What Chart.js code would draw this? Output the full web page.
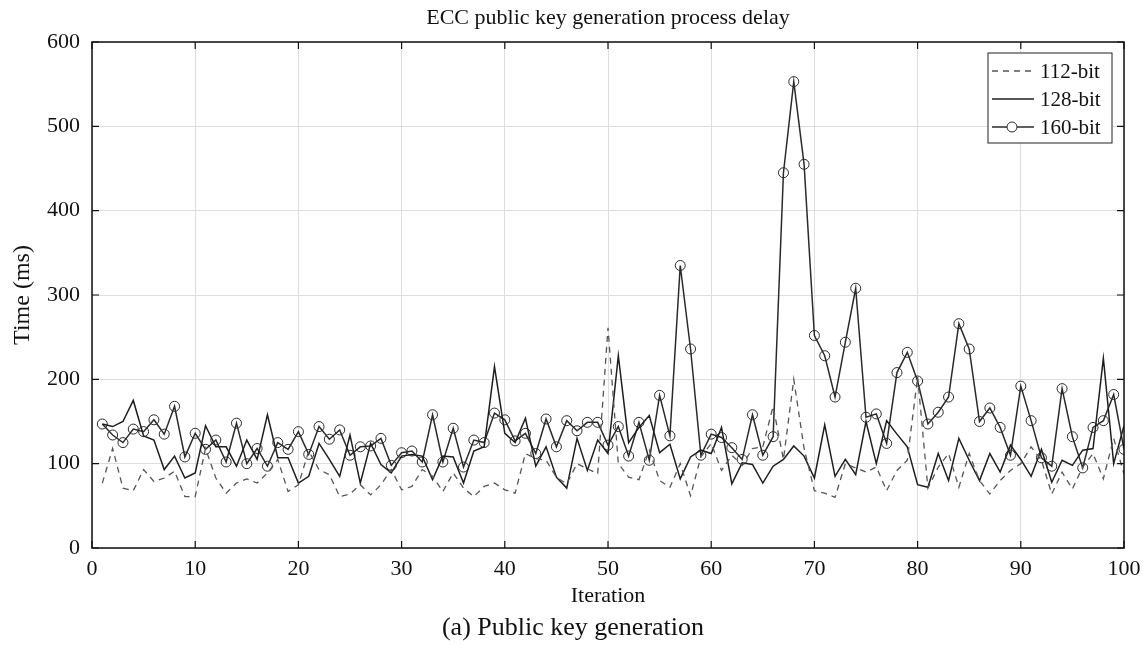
<!DOCTYPE html>
<html>
<head>
<meta charset="utf-8">
<script src="https://cdn.jsdelivr.net/npm/chart.js@4/dist/chart.umd.min.js"></script>
<style>
  html, body { margin: 0; padding: 0; background: #fff; }
  #wrap { width: 1146px; height: 648px; }
</style>
</head>
<body>
<div id="wrap"><canvas id="chart" width="1146" height="648"></canvas></div>
<script>
// iteration index 1..100
var iterations = Array.from({length: 100}, function (_, i) { return i + 1; });

var bit112 = [77, 118, 71, 68, 93, 79, 83, 91, 61, 61,
              118, 83, 65, 77, 82, 77, 89, 105, 67, 75,
              115, 93, 87, 61, 64, 75, 63, 75, 93, 69,
              73, 93, 85, 67, 89, 71, 61, 73, 77, 69,
              65, 112, 106, 104, 84, 76, 100, 94, 88, 261,
              100, 84, 81, 116, 80, 72, 100, 62, 108, 124,
              92, 110, 98, 118, 120, 168, 105, 200, 118, 68,
              65, 60, 100, 95, 90, 96, 68, 92, 104, 203,
              71, 96, 112, 72, 112, 80, 64, 80, 92, 100,
              120, 104, 64, 90, 70, 96, 112, 82, 130, 88];

var bit128 = [147, 144, 150, 175, 133, 128, 93, 109, 83, 89,
              145, 120, 120, 97, 128, 105, 158, 107, 107, 77,
              85, 124, 105, 85, 134, 77, 124, 99, 89, 109,
              111, 109, 81, 109, 108, 77, 115, 120, 215, 136,
              125, 154, 97, 120, 84, 71, 130, 92, 128, 112,
              228, 125, 143, 157, 113, 123, 82, 108, 116, 112,
              143, 76, 101, 99, 77, 97, 105, 121, 109, 83,
              146, 85, 105, 87, 150, 100, 151, 135, 120, 75,
              72, 112, 80, 130, 104, 80, 112, 90, 122, 105,
              85, 117, 78, 104, 98, 116, 118, 225, 100, 145];

var bit160 = [147, 134, 125, 141, 138, 152, 135, 168, 108, 136,
              117, 128, 102, 148, 100, 118, 97, 125, 117, 138,
              111, 144, 129, 140, 110, 120, 121, 130, 98, 113,
              115, 102, 158, 102, 142, 96, 128, 125, 160, 152,
              127, 136, 112, 153, 120, 151, 139, 149, 149, 122,
              144, 109, 149, 104, 181, 133, 335, 236, 110, 135,
              131, 119, 105, 158, 110, 132, 445, 553, 455, 252,
              228, 179, 244, 308, 155, 159, 124, 208, 232, 198,
              147, 161, 179, 266, 236, 150, 166, 143, 110, 192,
              151, 107, 97, 189, 132, 95, 143, 151, 182, 117];

var xTicks = [0, 10, 20, 30, 40, 50, 60, 70, 80, 90, 100];
var yTicks = [0, 100, 200, 300, 400, 500, 600];

var serif = '"Liberation Serif", "DejaVu Serif", serif';

function pts(arr) {
    return arr.map(function (v, i) { return {x: iterations[i], y: v}; });
}

// frame, inward ticks, title, caption and legend
var decor = {
    id: 'decor',
    afterDraw: function (chart) {
        var ctx = chart.ctx, a = chart.chartArea;
        var xs = chart.scales.x, ys = chart.scales.y;
        ctx.save();
        ctx.strokeStyle = '#111';
        ctx.lineWidth = 1.5;
        ctx.strokeRect(a.left, a.top, a.right - a.left, a.bottom - a.top);
        ctx.lineWidth = 1.2;
        ctx.beginPath();
        xTicks.forEach(function (t) {
            var px = xs.getPixelForValue(t);
            ctx.moveTo(px, a.bottom); ctx.lineTo(px, a.bottom - 7);
            ctx.moveTo(px, a.top); ctx.lineTo(px, a.top + 7);
        });
        yTicks.forEach(function (t) {
            var py = ys.getPixelForValue(t);
            ctx.moveTo(a.left, py); ctx.lineTo(a.left + 7, py);
            ctx.moveTo(a.right, py); ctx.lineTo(a.right - 7, py);
        });
        ctx.stroke();

        ctx.fillStyle = '#111';
        ctx.textAlign = 'center';
        ctx.textBaseline = 'middle';
        ctx.font = '22px ' + serif;
        ctx.fillText('ECC public key generation process delay', (a.left + a.right) / 2, 18);
        ctx.font = '26px ' + serif;
        ctx.fillText('(a) Public key generation', 573, 628);

        // legend
        var lx = 988, ly = 53, lw = 124, lh = 90;
        ctx.fillStyle = '#fff';
        ctx.fillRect(lx, ly, lw, lh);
        ctx.strokeStyle = '#222';
        ctx.lineWidth = 1;
        ctx.strokeRect(lx, ly, lw, lh);
        ctx.textAlign = 'left';
        ctx.font = '21px ' + serif;
        chart.data.datasets.forEach(function (ds, i) {
            var y = ly + 18 + i * 28;
            ctx.strokeStyle = ds.borderColor;
            ctx.lineWidth = ds.borderWidth;
            ctx.setLineDash(ds.borderDash || []);
            ctx.beginPath();
            ctx.moveTo(lx + 4, y); ctx.lineTo(lx + 46, y);
            ctx.stroke();
            ctx.setLineDash([]);
            if (ds.pointRadius > 0) {
                ctx.lineWidth = 1;
                ctx.fillStyle = '#fff';
                ctx.beginPath();
                ctx.arc(lx + 24, y, ds.pointRadius, 0, Math.PI * 2);
                ctx.fill();
                ctx.stroke();
            }
            ctx.fillStyle = '#111';
            ctx.fillText(ds.label, lx + 52, y + 1);
        });
        ctx.restore();
    }
};

var ctx = document.getElementById('chart').getContext('2d');
var chart = new Chart(ctx, {
    type: 'line',
    data: {
        datasets: [
            {
                label: '112-bit',
                data: pts(bit112),
                borderColor: '#555',
                borderWidth: 1.3,
                borderDash: [6, 5],
                pointRadius: 0,
                fill: false,
                tension: 0
            },
            {
                label: '128-bit',
                data: pts(bit128),
                borderColor: '#1e1e1e',
                borderWidth: 1.5,
                pointRadius: 0,
                fill: false,
                tension: 0
            },
            {
                label: '160-bit',
                data: pts(bit160),
                borderColor: '#2a2a2a',
                borderWidth: 1.5,
                pointRadius: 5,
                pointBorderWidth: 1,
                pointBackgroundColor: 'rgba(0,0,0,0)',
                pointBorderColor: '#2a2a2a',
                fill: false,
                tension: 0
            }
        ]
    },
    options: {
        responsive: false,
        animation: false,
        layout: { padding: { left: 0, right: 22, top: 42, bottom: 38 } },
        plugins: {
            legend: { display: false },
            title: { display: false },
            tooltip: { enabled: false }
        },
        scales: {
            x: {
                type: 'linear',
                min: 0,
                max: 100,
                afterFit: function (s) { s.height = 62; s.paddingLeft = 0; s.paddingRight = 0; },
                afterBuildTicks: function (s) { s.ticks = xTicks.map(function (v) { return {value: v}; }); },
                grid: { color: '#dedede', lineWidth: 1, drawTicks: false },
                border: { display: false },
                ticks: { color: '#111', font: { family: serif, size: 22 }, padding: 8, maxRotation: 0 },
                title: { display: true, text: 'Iteration', color: '#111', font: { family: serif, size: 22 }, padding: { top: 0, bottom: 1 } }
            },
            y: {
                min: 0,
                max: 600,
                afterFit: function (s) { s.width = 92; },
                afterBuildTicks: function (s) { s.ticks = yTicks.map(function (v) { return {value: v}; }); },
                grid: { color: '#dedede', lineWidth: 1, drawTicks: false },
                border: { display: false },
                ticks: { color: '#111', font: { family: serif, size: 22 }, padding: 12 },
                title: { display: true, text: 'Time (ms)', color: '#111', font: { family: serif, size: 24 }, padding: { top: 8, bottom: 0 } }
            }
        }
    },
    plugins: [decor]
});
</script>
</body>
</html>
